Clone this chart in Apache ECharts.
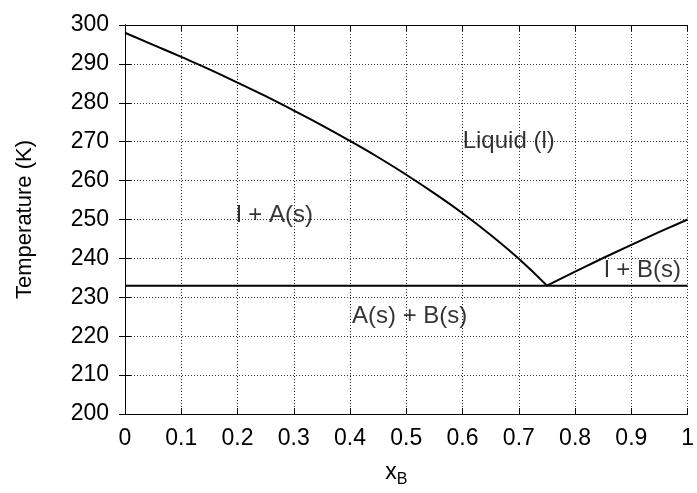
<!DOCTYPE html>
<html>
<head>
<meta charset="utf-8">
<script src="https://cdn.jsdelivr.net/npm/echarts@6/dist/echarts.min.js"></script>
<style>
  html, body { margin: 0; padding: 0; background: #fff; }
  #chart { width: 697px; height: 493px; }
</style>
</head>
<body>
<div id="chart"></div>
<script>
// liquidus of A (x_B, T in K)
const liquidusA = [
  [0, 298.0], [0.05, 294.9], [0.1, 291.8], [0.15, 288.6], [0.2, 285.2],
  [0.25, 281.7], [0.3, 278.0], [0.35, 274.2], [0.4, 270.2], [0.45, 266.0],
  [0.5, 261.5], [0.55, 256.7], [0.6, 251.6], [0.65, 246.0], [0.7, 239.9],
  [0.75, 233.0]
];
// liquidus of B
const liquidusB = [
  [0.75, 233.0], [0.8, 236.6], [0.85, 240.1], [0.9, 243.5], [0.95, 246.8], [1, 250.0]
];
// eutectic line
const eutectic = [[0, 233], [1, 233]];
// region labels [x, T, text]
const regionLabels = [
  [0.682, 270.0, 'Liquid (l)'],
  [0.266, 251.0, 'l + A(s)'],
  [0.92, 237.0, 'l + B(s)'],
  [0.506, 225.2, 'A(s) + B(s)']
];

const font = 'Liberation Sans, Arial, sans-serif';
const chart = echarts.init(document.getElementById('chart'));

const gridLine = { show: true, lineStyle: { color: '#333', type: [1, 2], width: 1 } };

chart.setOption({
  animation: false,
  textStyle: { fontFamily: font, color: '#000' },
  grid: { left: 125, right: 6, top: 25, bottom: 74 },
  xAxis: [{
    type: 'value', min: 0, max: 1, interval: 0.1,
    name: '{x|x}{sub|B}', nameLocation: 'middle', nameGap: 44,
    nameTextStyle: {
      padding: [0, 20, 0, 0],
      rich: {
        x: { fontSize: 23, fontFamily: font, color: '#000' },
        sub: { fontSize: 16, fontFamily: font, color: '#000', verticalAlign: 'bottom', padding: [14, 0, 0, 0] }
      }
    },
    axisLine: { lineStyle: { color: '#000', width: 1 } },
    axisTick: { inside: true, length: 6, lineStyle: { color: '#000' } },
    axisLabel: { fontSize: 23, color: '#000', margin: 13, fontFamily: font,
      formatter: v => (v === 0 || v === 1) ? String(v) : v.toFixed(1) },
    splitLine: gridLine
  }, {
    type: 'value', min: 0, max: 1, interval: 0.1, position: 'top',
    axisLine: { lineStyle: { color: '#000', width: 1 } },
    axisTick: { inside: true, length: 6, lineStyle: { color: '#000' } },
    axisLabel: { show: false }, splitLine: { show: false }
  }],
  yAxis: [{
    type: 'value', min: 200, max: 300, interval: 10,
    name: 'Temperature (K)', nameLocation: 'middle', nameGap: 89,
    nameTextStyle: { fontSize: 22, color: '#000', fontFamily: font },
    axisLine: { show: true, lineStyle: { color: '#000', width: 1 } },
    axisTick: { show: true, inside: true, length: 6, lineStyle: { color: '#000' } },
    axisLabel: { fontSize: 23, color: '#000', margin: 16, fontFamily: font },
    splitLine: gridLine
  }, {
    type: 'value', min: 200, max: 300, interval: 10, position: 'right',
    axisLine: { show: true, lineStyle: { color: '#000', width: 1 } },
    axisTick: { show: true, inside: true, length: 6, lineStyle: { color: '#000' } },
    axisLabel: { show: false }, splitLine: { show: false }
  }],
  series: [
    {
      type: 'line', data: liquidusA, showSymbol: false, smooth: true,
      lineStyle: { color: '#000', width: 2 }
    },
    {
      type: 'line', data: liquidusB, showSymbol: false,
      lineStyle: { color: '#000', width: 2 }
    },
    {
      type: 'line', data: eutectic, showSymbol: false,
      lineStyle: { color: '#000', width: 2 }
    },
    {
      type: 'scatter', symbolSize: 0, silent: true,
      data: regionLabels.map(d => ({ value: [d[0], d[1]], name: d[2] })),
      label: {
        show: true, position: 'inside', formatter: p => p.name,
        fontSize: 24, color: '#000', fontFamily: font,
        textBorderWidth: 0
      }
    }
  ]
});
</script>
</body>
</html>
